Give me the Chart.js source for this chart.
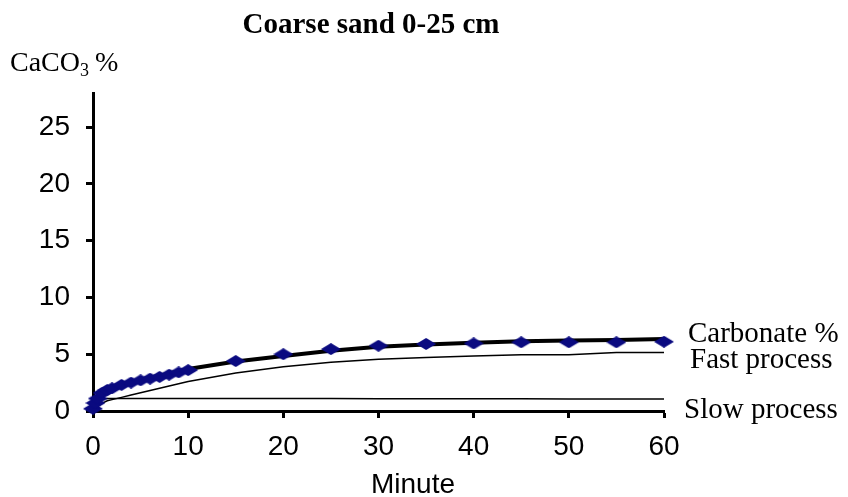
<!DOCTYPE html>
<html>
<head>
<meta charset="utf-8">
<script src="https://cdn.jsdelivr.net/npm/chart.js@4.4.0/dist/chart.umd.min.js"></script>
<style>
  html, body { margin: 0; padding: 0; background: #fff; }
  #wrap { width: 848px; height: 497px; position: relative; }
</style>
</head>
<body>
<div id="wrap"><canvas id="grafico"></canvas></div>
<script>
// Tempo (min) e teores de CaCO3 (%)
const minutos   = [0, 0.25, 0.5, 1, 1.5, 2, 3, 4, 5, 6, 7, 8, 9, 10, 15, 20, 25, 30, 35, 40, 45, 50, 55, 60];
const carbonato = [0.2, 0.7, 1.1, 1.6, 1.85, 2.0, 2.3, 2.5, 2.7, 2.85, 3.0, 3.2, 3.4, 3.6, 4.4, 5.0, 5.45, 5.75, 5.9, 5.95, 6.05, 6.05, 6.05, 6.1];
const ajuste    = [0.1, 0.7, 1.2, 1.7, 1.95, 2.1, 2.35, 2.55, 2.75, 2.95, 3.1, 3.3, 3.5, 3.7, 4.35, 4.85, 5.3, 5.65, 5.85, 6.0, 6.15, 6.2, 6.25, 6.35];
const rapido    = [0, 0.2, 0.4, 0.7, 0.9, 1.0, 1.2, 1.4, 1.6, 1.8, 2.0, 2.2, 2.4, 2.6, 3.35, 3.9, 4.3, 4.55, 4.7, 4.85, 4.95, 4.95, 5.15, 5.15];
const lento     = [0, 0.6, 0.9, 1.05, 1.1, 1.1, 1.1, 1.1, 1.1, 1.1, 1.1, 1.1, 1.1, 1.1, 1.1, 1.1, 1.1, 1.08, 1.08, 1.07, 1.07, 1.06, 1.05, 1.05];
const ticksX = [0, 10, 20, 30, 40, 50, 60];
const ticksY = [0, 5, 10, 15, 20, 25];

const pontos = (ys) => minutos.map((x, i) => ({ x: x, y: ys[i] }));

// marcador losango achatado
function criarLosango() {
  const c = document.createElement("canvas");
  c.width = 20; c.height = 12;
  const g = c.getContext("2d");
  g.fillStyle = "#0a0a80";
  g.beginPath();
  g.moveTo(10, 0); g.lineTo(20, 6); g.lineTo(10, 12); g.lineTo(0, 6);
  g.closePath();
  g.fill();
  return c;
}
const losango = criarLosango();

// textos fixos: título, unidade do eixo, nome do eixo x e rótulos das curvas
const textosPlugin = {
  id: "textos",
  afterDraw(chart) {
    const ctx = chart.ctx;
    ctx.save();
    ctx.fillStyle = "#000";
    ctx.textBaseline = "alphabetic";

    ctx.font = 'bold 29px "Liberation Serif"';
    ctx.textAlign = "center";
    ctx.fillText("Coarse sand 0-25 cm", 371, 33);

    ctx.font = '28px "Liberation Sans"';
    ctx.fillText("Minute", 413, 493);

    ctx.textAlign = "left";
    ctx.font = '28px "Liberation Serif"';
    ctx.fillText("CaCO", 10, 71);
    let x = 10 + ctx.measureText("CaCO").width;
    ctx.font = '18px "Liberation Serif"';
    ctx.fillText("3", x, 76);
    x += ctx.measureText("3").width + 6;
    ctx.font = '28px "Liberation Serif"';
    ctx.fillText("%", x, 71);

    ctx.font = '29px "Liberation Serif"';
    ctx.fillText("Carbonate %", 688, 342);
    ctx.fillText("Fast process", 690, 368);
    ctx.fillText("Slow process", 684, 418);
    ctx.restore();
  }
};

new Chart(document.getElementById("grafico"), {
  type: "line",
  data: {
    datasets: [
      {
        label: "Carbonate %",
        data: pontos(carbonato),
        showLine: false,
        pointStyle: losango,
        pointRadius: 10,
        clip: false,
        order: 0
      },
      {
        label: "Total",
        data: pontos(ajuste),
        borderColor: "#000",
        borderWidth: 4,
        pointRadius: 0,
        tension: 0,
        order: 1
      },
      {
        label: "Fast process",
        data: pontos(rapido),
        borderColor: "#000",
        borderWidth: 1.5,
        pointRadius: 0,
        tension: 0,
        order: 2
      },
      {
        label: "Slow process",
        data: pontos(lento),
        borderColor: "#000",
        borderWidth: 1.5,
        pointRadius: 0,
        tension: 0,
        order: 3
      }
    ]
  },
  options: {
    responsive: true,
    maintainAspectRatio: false,
    animation: false,
    layout: { padding: { top: 93, right: 184, bottom: 0, left: 0 } },
    plugins: { legend: { display: false }, tooltip: { enabled: false } },
    scales: {
      x: {
        type: "linear",
        min: 0,
        max: 60,
        afterBuildTicks: (s) => { s.ticks = ticksX.map(v => ({ value: v })); },
        afterFit: (s) => { s.height = 86; },
        border: { color: "#000", width: 3 },
        grid: { drawOnChartArea: false, color: "#000", tickWidth: 3, tickLength: 7 },
        ticks: { color: "#000", padding: 12, maxRotation: 0, font: { family: "Liberation Sans", size: 28 } }
      },
      y: {
        min: 0,
        max: 28,
        afterBuildTicks: (s) => { s.ticks = ticksY.map(v => ({ value: v })); },
        afterFit: (s) => { s.width = 93; },
        border: { color: "#000", width: 3 },
        grid: { drawOnChartArea: false, color: "#000", tickWidth: 3, tickLength: 7 },
        ticks: { color: "#000", padding: 16, font: { family: "Liberation Sans", size: 28 } }
      }
    }
  },
  plugins: [textosPlugin]
});
</script>
</body>
</html>
